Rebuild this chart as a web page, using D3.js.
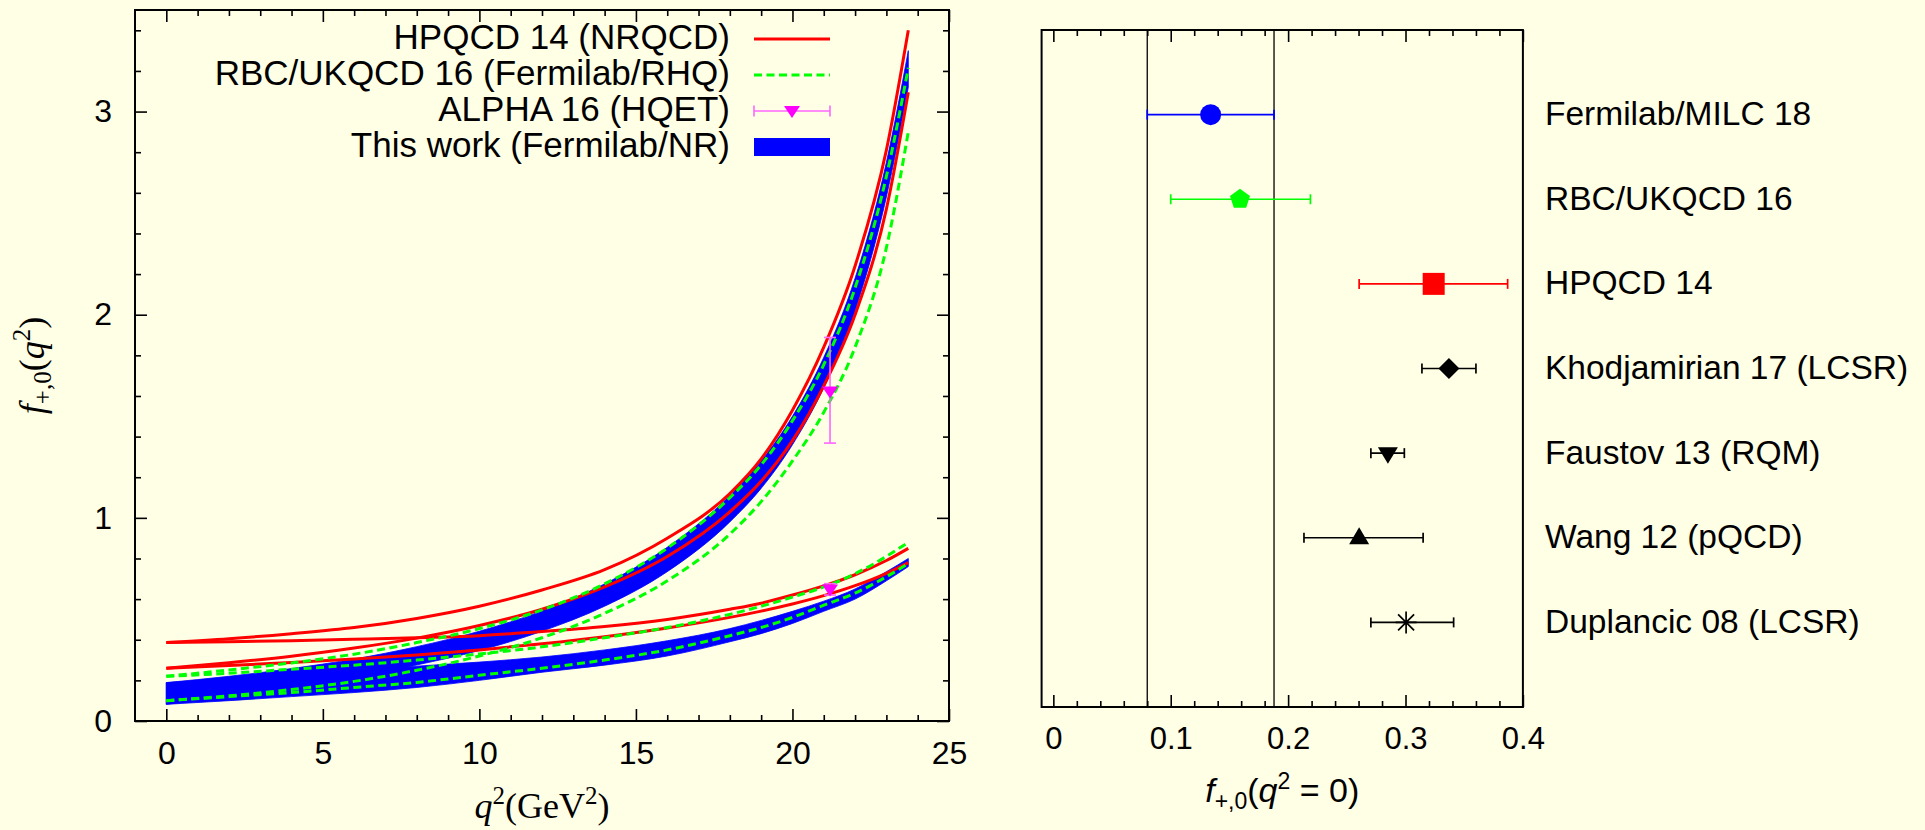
<!DOCTYPE html>
<html>
<head>
<meta charset="utf-8">
<script src="https://cdn.jsdelivr.net/npm/d3@7"></script>
<style>
body { margin: 0; background: #ffffe6; }
svg { display: block; }
text { fill: #000; }
</style>
</head>
<body>
<svg id="chart" width="1925" height="830"></svg>
<script>
const q2Grid = [0, 2, 4, 6, 8, 10, 12, 14, 16, 18, 19, 20, 21, 22, 23, 23.7];

// HPQCD 14 (NRQCD) band edges, f+ and f0
const hpqcdPlusHi = [0.386, 0.405, 0.43, 0.46, 0.505, 0.565, 0.645, 0.745, 0.90, 1.12, 1.29, 1.53, 1.84, 2.24, 2.81, 3.40];
const hpqcdPlusLo = [0.26, 0.287, 0.319, 0.359, 0.408, 0.47, 0.55, 0.66, 0.81, 1.03, 1.18, 1.38, 1.65, 2.0, 2.52, 3.095];
const hpqcdZeroHi = [0.386, 0.39, 0.395, 0.402, 0.41, 0.42, 0.44, 0.465, 0.50, 0.55, 0.58, 0.62, 0.665, 0.72, 0.79, 0.85];
const hpqcdZeroLo = [0.26, 0.273, 0.288, 0.305, 0.325, 0.35, 0.38, 0.415, 0.458, 0.51, 0.541, 0.576, 0.617, 0.666, 0.727, 0.78];

// RBC/UKQCD 16 band edges
const rbcPlusHi = [0.22, 0.251, 0.286, 0.329, 0.386, 0.455, 0.547, 0.675, 0.851, 1.099, 1.261, 1.478, 1.754, 2.132, 2.681, 3.215];
const rbcPlusLo = [0.10, 0.124, 0.155, 0.195, 0.25, 0.32, 0.41, 0.53, 0.69, 0.92, 1.08, 1.28, 1.52, 1.84, 2.33, 2.90];
const rbcZeroHi = [0.22, 0.235, 0.255, 0.275, 0.30, 0.33, 0.365, 0.41, 0.46, 0.525, 0.565, 0.61, 0.66, 0.725, 0.81, 0.88];
const rbcZeroLo = [0.10, 0.12, 0.14, 0.165, 0.19, 0.225, 0.26, 0.30, 0.35, 0.42, 0.46, 0.51, 0.57, 0.63, 0.71, 0.775];

// This work (Fermilab/NR) band edges
const thisPlusHi = [0.189, 0.22, 0.258, 0.305, 0.366, 0.442, 0.542, 0.675, 0.855, 1.11, 1.28, 1.50, 1.79, 2.18, 2.75, 3.30];
const thisPlusLo = [0.082, 0.12, 0.163, 0.215, 0.276, 0.347, 0.442, 0.565, 0.735, 0.98, 1.145, 1.36, 1.64, 2.02, 2.58, 3.12];
const thisZeroHi = [0.189, 0.205, 0.225, 0.245, 0.27, 0.29, 0.315, 0.35, 0.395, 0.455, 0.495, 0.54, 0.59, 0.65, 0.735, 0.80];
const thisZeroLo = [0.082, 0.10, 0.12, 0.14, 0.165, 0.20, 0.24, 0.275, 0.32, 0.39, 0.43, 0.48, 0.54, 0.60, 0.69, 0.76];

// ALPHA 16 (HQET) points: f+ and f0
const alphaQ2 = [21.2, 21.2];
const alphaVal = [1.622, 0.647];
const alphaLo = [1.368, 0.62];
const alphaHi = [1.888, 0.676];

const legendLabels = ["HPQCD 14 (NRQCD)", "RBC/UKQCD 16 (Fermilab/RHQ)", "ALPHA 16 (HQET)", "This work (Fermilab/NR)"];

// f(q^2 = 0) comparison
const compLabels = ["Fermilab/MILC 18", "RBC/UKQCD 16", "HPQCD 14", "Khodjamirian 17 (LCSR)", "Faustov 13 (RQM)", "Wang 12 (pQCD)", "Duplancic 08 (LCSR)"];
const compValue = [0.134, 0.159, 0.324, 0.337, 0.285, 0.2605, 0.3005];
const compLow = [0.080, 0.100, 0.2605, 0.314, 0.2705, 0.2135, 0.2705];
const compHigh = [0.188, 0.219, 0.387, 0.360, 0.299, 0.315, 0.341];

const leftXTicks = [0, 5, 10, 15, 20, 25];
const leftYTicks = [0, 1, 2, 3];
const rightXTicks = [0, 0.1, 0.2, 0.3, 0.4];

// marker style per comparison row
const compStyle = [
    {shape: "circle", color: "#0000ff"},
    {shape: "pentagon", color: "#00ff00"},
    {shape: "square", color: "#ff0000"},
    {shape: "diamond", color: "#000"},
    {shape: "triDown", color: "#000"},
    {shape: "triUp", color: "#000"},
    {shape: "star", color: "#000"}
];

const SANS = '"Liberation Sans", Arial, sans-serif';
const SERIF = '"Liberation Serif", "DejaVu Serif", serif';

const svg = d3.select("#chart").style("font-family", SANS);

const shapePath = {
    circle: () => d3.symbol(d3.symbolCircle, Math.PI * 10.5 * 10.5)(),
    square: () => "M-11,-11h22v22h-22Z",
    diamond: () => "M0,-10.5L10.5,0L0,10.5L-10.5,0Z",
    triUp: () => "M0,-10.5L10,6.5L-10,6.5Z",
    triDown: () => "M0,10.5L10,-6L-10,-6Z",
    pentagon: () => d3.range(5).map(i => {
        const a = -Math.PI / 2 + i * 2 * Math.PI / 5;
        return (i ? "L" : "M") + (10.5 * Math.cos(a)).toFixed(2) + "," + (10.5 * Math.sin(a)).toFixed(2);
    }).join("") + "Z",
    star: () => "M-10.5,0H10.5M0,-11V11M-8,-8L8,8M-8,8L8,-8"
};

/* generic inward tick axis; tick labels only when asked */
const addAxis = (gen, tr, vals, size, labelled, pad, fontSize) => {
    gen.tickValues(vals).tickSizeInner(size).tickSizeOuter(0).tickPadding(pad || 0)
        .tickFormat(labelled ? (d => d3.format("")(d)) : (() => ""));
    const g = svg.append("g").attr("transform", tr).call(gen);
    g.select(".domain").remove();
    g.attr("font-family", null).attr("font-size", null);
    g.selectAll("line").attr("stroke", "#000").attr("stroke-width", 1.6);
    g.selectAll("text").style("font-size", (fontSize || 32) + "px").style("font-family", SANS).attr("fill", "#000");
    return g;
};

/* ---------------- left panel: form factors vs q^2 ---------------- */
const L = {left: 135, right: 949, top: 10, bottom: 721};
const x = d3.scaleLinear().domain([-1, 25]).range([L.left, L.right]);
const y = d3.scaleLinear().domain([0, 3.5]).range([L.bottom, L.top]);

const xMinor = d3.range(0, 26).filter(v => v % 5 !== 0);
const yMinor = d3.range(0, 18).filter(i => i % 5 !== 0).map(i => i * 0.2);

addAxis(d3.axisBottom(x), `translate(0,${L.bottom})`, leftXTicks, -12, true, 20);
addAxis(d3.axisBottom(x), `translate(0,${L.bottom})`, xMinor, -6, false);
addAxis(d3.axisTop(x), `translate(0,${L.top})`, leftXTicks, -12, false);
addAxis(d3.axisTop(x), `translate(0,${L.top})`, xMinor, -6, false);
addAxis(d3.axisLeft(y), `translate(${L.left},0)`, leftYTicks, -12, true, 23);
addAxis(d3.axisLeft(y), `translate(${L.left},0)`, yMinor, -6, false);
addAxis(d3.axisRight(y), `translate(${L.right},0)`, leftYTicks, -12, false);
addAxis(d3.axisRight(y), `translate(${L.right},0)`, yMinor, -6, false);

// blue bands
const band = d3.area().curve(d3.curveMonotoneX)
    .x(d => x(d[0])).y0(d => y(d[1])).y1(d => y(d[2]));
const plots = svg.append("g");
[[thisPlusLo, thisPlusHi], [thisZeroLo, thisZeroHi]].forEach(([lo, hi]) => {
    plots.append("path")
        .attr("d", band(q2Grid.map((q, i) => [q, lo[i], hi[i]])))
        .attr("fill", "#0000ff").attr("stroke", "#0000ff").attr("stroke-width", 0.8);
});

const curve = d3.line().curve(d3.curveMonotoneX).x(d => x(d[0])).y(d => y(d[1]));
[hpqcdPlusHi, hpqcdPlusLo, hpqcdZeroHi, hpqcdZeroLo].forEach(vals => {
    plots.append("path")
        .attr("d", curve(q2Grid.map((q, i) => [q, vals[i]])))
        .attr("fill", "none").attr("stroke", "#ff0000").attr("stroke-width", 3);
});
[rbcPlusHi, rbcPlusLo, rbcZeroHi, rbcZeroLo].forEach(vals => {
    plots.append("path")
        .attr("d", curve(q2Grid.map((q, i) => [q, vals[i]])))
        .attr("fill", "none").attr("stroke", "#00ff00").attr("stroke-width", 3)
        .attr("stroke-dasharray", "8,4.5");
});

// ALPHA points with vertical error bars
alphaQ2.forEach((q, i) => {
    const g = plots.append("g");
    g.append("line").attr("x1", x(q)).attr("x2", x(q))
        .attr("y1", y(alphaLo[i])).attr("y2", y(alphaHi[i]));
    [alphaLo[i], alphaHi[i]].forEach(v => g.append("line")
        .attr("x1", x(q) - 6).attr("x2", x(q) + 6).attr("y1", y(v)).attr("y2", y(v)));
    g.selectAll("line").attr("stroke", "#ff66ff").attr("stroke-width", 1.6);
    g.append("path").attr("d", "M0,7L8,-5L-8,-5Z")
        .attr("transform", `translate(${x(q)},${y(alphaVal[i])})`).attr("fill", "#ff00ff");
});

// frame
svg.append("rect").attr("x", L.left).attr("y", L.top)
    .attr("width", L.right - L.left).attr("height", L.bottom - L.top)
    .attr("fill", "none").attr("stroke", "#000").attr("stroke-width", 2);

// legend
const legend = svg.append("g");
legendLabels.forEach((lab, i) => {
    const cy = 39 + i * 36;
    legend.append("text").attr("x", 730).attr("y", cy + 10)
        .attr("text-anchor", "end").style("font-size", "35px").text(lab);
    if (i === 0) {
        legend.append("line").attr("x1", 754).attr("x2", 830).attr("y1", cy).attr("y2", cy)
            .attr("stroke", "#ff0000").attr("stroke-width", 3);
    } else if (i === 1) {
        legend.append("line").attr("x1", 754).attr("x2", 830).attr("y1", cy).attr("y2", cy)
            .attr("stroke", "#00ff00").attr("stroke-width", 3).attr("stroke-dasharray", "8,4.5");
    } else if (i === 2) {
        const g = legend.append("g");
        g.append("line").attr("x1", 754).attr("x2", 830).attr("y1", cy).attr("y2", cy);
        [754, 830].forEach(px => g.append("line").attr("x1", px).attr("x2", px)
            .attr("y1", cy - 5.5).attr("y2", cy + 5.5));
        g.selectAll("line").attr("stroke", "#ff66ff").attr("stroke-width", 1.6);
        g.append("path").attr("d", "M0,7L8,-5L-8,-5Z")
            .attr("transform", `translate(792,${cy})`).attr("fill", "#ff00ff");
    } else {
        legend.append("rect").attr("x", 754).attr("y", cy - 9).attr("width", 76).attr("height", 18)
            .attr("fill", "#0000ff");
    }
});

// axis titles (math style, serif)
const yTitle = svg.append("text")
    .attr("transform", `translate(44,${(L.top + L.bottom) / 2}) rotate(-90)`)
    .attr("text-anchor", "middle").style("font-family", SERIF).style("font-size", "36px");
yTitle.append("tspan").style("font-style", "italic").text("f");
yTitle.append("tspan").style("font-size", "25px").attr("dy", 7).text("+,0");
yTitle.append("tspan").attr("dy", -7).text("(");
yTitle.append("tspan").style("font-style", "italic").text("q");
yTitle.append("tspan").style("font-size", "25px").attr("dy", -14).text("2");
yTitle.append("tspan").attr("dy", 14).text(")");

const xTitle = svg.append("text")
    .attr("x", (L.left + L.right) / 2).attr("y", 818)
    .attr("text-anchor", "middle").style("font-family", SERIF).style("font-size", "36px");
xTitle.append("tspan").style("font-style", "italic").text("q");
xTitle.append("tspan").style("font-size", "25px").attr("dy", -14).text("2");
xTitle.append("tspan").attr("dy", 14).text("(GeV");
xTitle.append("tspan").style("font-size", "25px").attr("dy", -14).text("2");
xTitle.append("tspan").attr("dy", 14).text(")");

/* ---------------- right panel: f(0) comparison ---------------- */
const R = {left: 1041.6, right: 1522.9, top: 30, bottom: 707};
const xr = d3.scaleLinear().domain([-0.01, 0.4]).range([R.left, R.right]);
const yr = d3.scaleLinear().domain([0, 8]).range([R.bottom, R.top]);
const xrMinor = d3.range(0, 21).filter(i => i % 5 !== 0).map(i => i * 0.02);

addAxis(d3.axisBottom(xr), `translate(0,${R.bottom})`, rightXTicks, -12, true, 20, 31);
addAxis(d3.axisBottom(xr), `translate(0,${R.bottom})`, xrMinor, -6, false);
addAxis(d3.axisTop(xr), `translate(0,${R.top})`, rightXTicks, -12, false);
addAxis(d3.axisTop(xr), `translate(0,${R.top})`, xrMinor, -6, false);

// band of this work
[compLow[0], compHigh[0]].forEach(v => svg.append("line")
    .attr("x1", xr(v)).attr("x2", xr(v)).attr("y1", R.top).attr("y2", R.bottom)
    .attr("stroke", "#000").attr("stroke-width", 1.3));

compLabels.forEach((lab, i) => {
    const row = compLabels.length - i;
    const cy = yr(row);
    const col = compStyle[i].color;
    const g = svg.append("g");
    g.append("line").attr("x1", xr(compLow[i])).attr("x2", xr(compHigh[i])).attr("y1", cy).attr("y2", cy);
    [compLow[i], compHigh[i]].forEach(v => g.append("line")
        .attr("x1", xr(v)).attr("x2", xr(v)).attr("y1", cy - 5).attr("y2", cy + 5));
    g.selectAll("line").attr("stroke", col).attr("stroke-width", 1.7);
    const sym = g.append("path").attr("d", shapePath[compStyle[i].shape]())
        .attr("transform", `translate(${xr(compValue[i])},${cy})`);
    if (compStyle[i].shape === "star") sym.attr("fill", "none").attr("stroke", col).attr("stroke-width", 1.7);
    else sym.attr("fill", col);
    svg.append("text").attr("x", 1545).attr("y", cy + 10.5).style("font-size", "33.5px").text(lab);
});

svg.append("rect").attr("x", R.left).attr("y", R.top)
    .attr("width", R.right - R.left).attr("height", R.bottom - R.top)
    .attr("fill", "none").attr("stroke", "#000").attr("stroke-width", 2);

const xrTitle = svg.append("text")
    .attr("x", (R.left + R.right) / 2).attr("y", 802)
    .attr("text-anchor", "middle").style("font-size", "34px");
xrTitle.append("tspan").style("font-style", "italic").text("f");
xrTitle.append("tspan").style("font-size", "23px").attr("dy", 7).text("+,0");
xrTitle.append("tspan").attr("dy", -7).text("(");
xrTitle.append("tspan").style("font-style", "italic").text("q");
xrTitle.append("tspan").style("font-size", "23px").attr("dy", -13).text("2");
xrTitle.append("tspan").attr("dy", 13).text(" = 0)");
</script>
</body>
</html>
